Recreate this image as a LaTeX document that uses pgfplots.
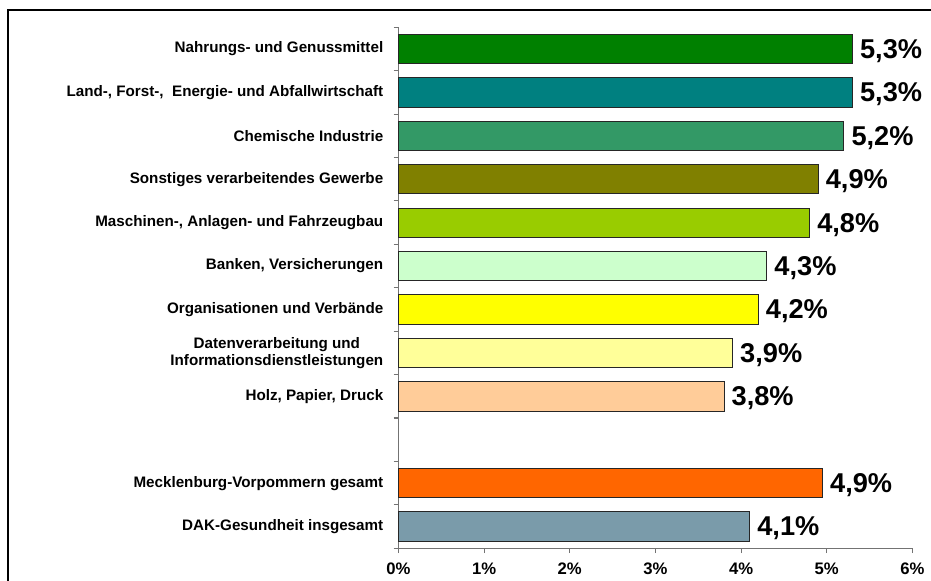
\documentclass[border=0pt]{standalone}
\usepackage{pgfplots}
\pgfplotsset{compat=1.18}
\usepackage{fontspec}
\setmainfont{Liberation Sans}
\definecolor{c1}{HTML}{008000}
\definecolor{c2}{HTML}{008080}
\definecolor{c3}{HTML}{339966}
\definecolor{c4}{HTML}{808000}
\definecolor{c5}{HTML}{99CC00}
\definecolor{c6}{HTML}{CCFFCC}
\definecolor{c7}{HTML}{FFFF00}
\definecolor{c8}{HTML}{FFFF99}
\definecolor{c9}{HTML}{FFCC99}
\definecolor{c10}{HTML}{FF6600}
\definecolor{c11}{HTML}{7A9BAA}
\begin{document}
\begin{tikzpicture}
\draw[line width=1.7pt] (-293pt,403.7pt) rectangle (430pt,-45pt);
\begin{axis}[
  at={(0,0)}, anchor=south west, scale only axis,
  width=385.4pt, height=390.75pt,
  xmin=0, xmax=6, ymin=-0.5, ymax=11.5, y dir=reverse,
  xbar, bar width=22pt,
  axis x line*=bottom, axis y line*=left,
  axis line style={-, draw=black!55, line width=0.8pt},
  xtick={0,...,6},
  xticklabels={0\%,1\%,2\%,3\%,4\%,5\%,6\%},
  ytick={0,...,11},
  yticklabels={Nahrungs- und Genussmittel,
    {Land-, Forst-,\ \ Energie- und Abfallwirtschaft},
    Chemische Industrie,
    Sonstiges verarbeitendes Gewerbe,
    {Maschinen-, Anlagen- und Fahrzeugbau},
    {Banken, Versicherungen},
    Organisationen und Verbände,
    {Datenverarbeitung und\\Informationsdienstleistungen},
    {Holz, Papier, Druck},
    {},
    Mecklenburg-Vorpommern gesamt,
    DAK-Gesundheit insgesamt},
  minor ytick={-0.5,0.5,...,11.5},
  tick align=outside,
  major tick length=3.75pt, minor tick length=3.75pt,
  major y tick style={draw=none},
  minor y tick style={draw=black!55, line width=0.8pt},
  major x tick style={draw=black!55, line width=0.8pt},
  yticklabel style={font=\fontsize{11.4}{12.75}\selectfont\bfseries, align=center, inner sep=0pt, xshift=-7.5pt},
  xticklabel style={font=\fontsize{12.5}{14}\selectfont\bfseries, inner sep=0pt, yshift=-7pt},
  point meta=explicit symbolic,
  nodes near coords,
  nodes near coords style={font=\fontsize{20.4}{22}\selectfont\bfseries, anchor=west, inner sep=0pt, xshift=5.5pt, yshift=-1.5pt},
  every axis plot/.append style={bar shift=0pt, draw=black!85, line width=0.6pt},
  clip=false,
]
\addplot[fill=c1] coordinates {(5.3,0) [5,3\%]};
\addplot[fill=c2] coordinates {(5.3,1) [5,3\%]};
\addplot[fill=c3] coordinates {(5.2,2) [5,2\%]};
\addplot[fill=c4] coordinates {(4.9,3) [4,9\%]};
\addplot[fill=c5] coordinates {(4.8,4) [4,8\%]};
\addplot[fill=c6] coordinates {(4.3,5) [4,3\%]};
\addplot[fill=c7] coordinates {(4.2,6) [4,2\%]};
\addplot[fill=c8] coordinates {(3.9,7) [3,9\%]};
\addplot[fill=c9] coordinates {(3.8,8) [3,8\%]};
\addplot[fill=c10] coordinates {(4.95,10) [4,9\%]};
\addplot[fill=c11] coordinates {(4.1,11) [4,1\%]};
\end{axis}
\pgfresetboundingbox
\path[use as bounding box] (-298.9pt,-24.5pt) rectangle (399.4pt,411.2pt);
\end{tikzpicture}
\end{document}
